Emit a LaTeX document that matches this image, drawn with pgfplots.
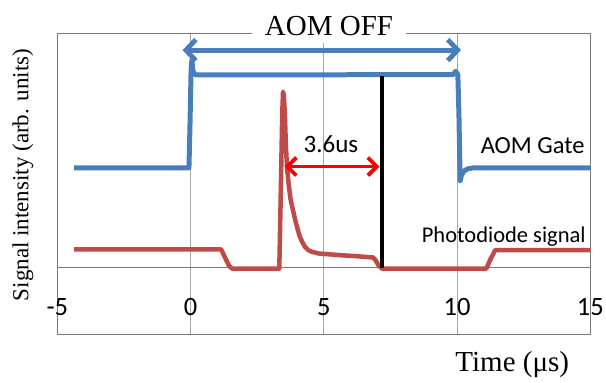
\documentclass[border=0pt]{standalone}
\usepackage{pgfplots}
\pgfplotsset{compat=1.18}
\usepackage{fontspec}
\setmainfont{Liberation Serif}
\newfontfamily\calfont{Carlito}
\usetikzlibrary{arrows.meta}
\definecolor{gateblue}{HTML}{4A7EBB}
\definecolor{pdred}{HTML}{BE4B48}
\definecolor{framegray}{HTML}{7A7A7A}
\definecolor{gridgray}{HTML}{A6A6A6}

\begin{document}
\begin{tikzpicture}
\path[use as bounding box] (0,0) rectangle (606bp,383bp);
\begin{axis}[
  at={(57.3bp,48bp)}, anchor=south west,
  scale only axis, width=533bp, height=302bp,
  xmin=-5, xmax=15, ymin=-2, ymax=7,
  clip mode=individual,
  axis line style={draw=framegray, line width=1bp},
  xtick={-5,0,5,10,15}, xticklabels={-5,0,5,10,15},
  ytick=\empty,
  extra y ticks={0}, extra y tick labels={},
  extra y tick style={grid=major, grid style={draw=framegray, line width=0.9bp}},
  xmajorgrids, grid style={draw=gridgray, line width=0.8bp},
  major tick length=0pt,
  xticklabel style={font=\calfont\fontsize{26.5bp}{30bp}\selectfont, anchor=center, yshift=28.4bp},
  ylabel={Signal intensity (arb. units)},
  ylabel style={at={(axis description cs:-0.0644,0.530)}, anchor=center,
    font=\fontsize{23bp}{27bp}\selectfont},
  xlabel={Time (μs)},
  xlabel style={at={(axis description cs:0.8535,-0.1215)}, anchor=base,
    font=\fontsize{29bp}{34bp}\selectfont},
]
% AOM gate trace
\addplot[gateblue, line width=5bp, line join=round] coordinates {
  (-4.37,2.98) (-0.06,2.98) (-0.02,4.3) (0.02,5.9) (0.05,6.2) (0.09,5.85)
  (0.20,5.75) (9.85,5.76) (9.95,5.86) (10.03,5.76) (10.07,4.6) (10.10,3.3)
  (10.12,2.60) (10.16,2.75) (10.25,2.88) (10.40,2.95) (10.60,2.98) (15,2.98)
};
% photodiode trace
\addplot[pdred, line width=4.5bp, line join=round] coordinates {
  (-4.37,0.55) (1.15,0.55) (1.30,0.30) (1.45,0.05) (1.56,-0.02) (3.33,-0.02)
  (3.38,2.0) (3.44,4.6) (3.47,5.25) (3.50,5.15) (3.54,4.55) (3.58,3.6)
  (3.62,3.0) (3.68,2.5) (3.75,2.05) (3.85,1.7) (3.93,1.42) (4.02,1.15)
  (4.10,0.93) (4.20,0.76) (4.29,0.63) (4.42,0.53) (4.55,0.48) (4.80,0.43)
  (5.11,0.41) (5.60,0.38) (6.20,0.35) (6.85,0.31) (6.95,0.22) (7.05,0.08)
  (7.18,-0.02) (11.10,-0.02) (11.25,0.25) (11.43,0.53) (15,0.53)
};
% marker of the end of the gate window
\addplot[black, line width=4.2bp] coordinates {(7.17,0) (7.17,5.72)};

\node[anchor=base, fill=white, inner xsep=13bp, inner ysep=8bp,
  font=\fontsize{29bp}{34bp}\selectfont] at (axis cs:5.195,6.94) {AOM OFF};
\draw[gateblue, line width=4.8bp,
  {Straight Barb[length=10bp,width=21bp]}-{Straight Barb[length=10bp,width=21bp]}]
  (axis cs:-0.30,6.49) -- (axis cs:10.15,6.49);
\draw[red, line width=3.8bp,
  {Straight Barb[length=9bp,width=18bp]}-{Straight Barb[length=9bp,width=18bp]}]
  (axis cs:3.53,3.02) -- (axis cs:7.09,3.02);
\node[anchor=base, inner sep=0pt, font=\calfont\fontsize{25bp}{30bp}\selectfont]
  at (axis cs:5.27,3.43) {3.6us};
\node[anchor=base east, inner sep=0pt, font=\calfont\fontsize{24.5bp}{29bp}\selectfont]
  at (axis cs:14.79,3.41) {AOM Gate};
\node[anchor=base east, inner sep=0pt, font=\calfont\fontsize{22.5bp}{27bp}\selectfont]
  at (axis cs:14.83,0.75) {Photodiode signal};
\end{axis}
\end{tikzpicture}
\end{document}
